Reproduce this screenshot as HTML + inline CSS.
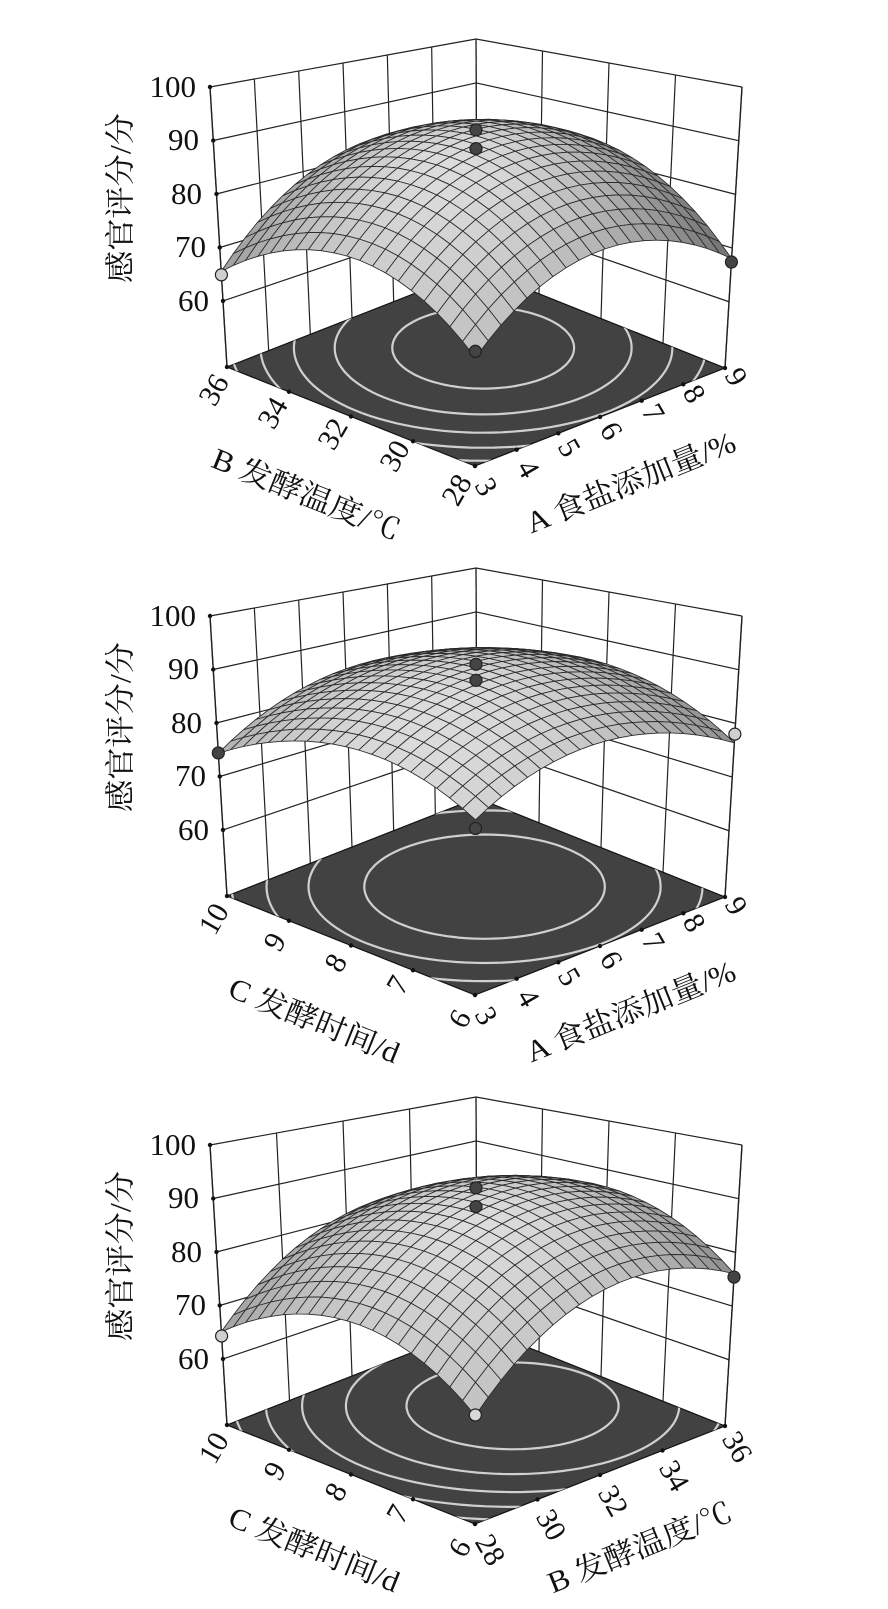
<!DOCTYPE html>
<html><head><meta charset="utf-8">
<style>
html,body{margin:0;padding:0;background:#fff;}
svg{display:block;}
text{font-family:"Liberation Serif","Noto Serif CJK SC",serif;fill:#111;}
</style></head>
<body>
<svg id="s" width="888" height="1609" viewBox="0 0 888 1609" xmlns="http://www.w3.org/2000/svg">
<defs></defs>
<g id="g0"></g><g id="g1"></g><g id="g2"></g>

<!-- Plot 1 -->
<g font-size="31" text-anchor="end">
<text x="196" y="97">100</text><text x="199" y="150">90</text><text x="202" y="204">80</text><text x="206" y="257">70</text><text x="209" y="311">60</text>
</g>
<text x="121" y="198" font-size="30" text-anchor="middle" dominant-baseline="central" transform="rotate(-90 121 198)" textLength="170" lengthAdjust="spacingAndGlyphs">感官评分/分</text>
<g font-size="30" text-anchor="middle" dominant-baseline="central">
<text x="457" y="490" transform="rotate(-60 457 490)">28</text>
<text x="395" y="456" transform="rotate(-60 395 456)">30</text>
<text x="333" y="434" transform="rotate(-60 333 434)">32</text>
<text x="273" y="413" transform="rotate(-60 273 413)">34</text>
<text x="214" y="390" transform="rotate(-60 214 390)">36</text>
<text x="486" y="487" transform="rotate(60 486 487)">3</text>
<text x="528" y="469" transform="rotate(60 528 469)">4</text>
<text x="569" y="448" transform="rotate(60 569 448)">5</text>
<text x="611" y="431" transform="rotate(60 611 431)">6</text>
<text x="653" y="413" transform="rotate(60 653 413)">7</text>
<text x="694" y="394" transform="rotate(60 694 394)">8</text>
<text x="736" y="377" transform="rotate(60 736 377)">9</text>
</g>
<text x="306" y="495" font-size="30" text-anchor="middle" dominant-baseline="central" transform="rotate(22 306 495)" textLength="200" lengthAdjust="spacingAndGlyphs">B 发酵温度/℃</text>
<text x="631" y="483" font-size="30" text-anchor="middle" dominant-baseline="central" transform="rotate(-22 631 483)" textLength="223" lengthAdjust="spacingAndGlyphs">A 食盐添加量/%</text>

<!-- Plot 2 -->
<g transform="translate(0,529)">
<g font-size="31" text-anchor="end">
<text x="196" y="97">100</text><text x="199" y="150">90</text><text x="202" y="204">80</text><text x="206" y="257">70</text><text x="209" y="311">60</text>
</g>
<text x="121" y="198" font-size="30" text-anchor="middle" dominant-baseline="central" transform="rotate(-90 121 198)" textLength="170" lengthAdjust="spacingAndGlyphs">感官评分/分</text>
<g font-size="30" text-anchor="middle" dominant-baseline="central">
<text x="460" y="490" transform="rotate(-60 460 490)">6</text>
<text x="398" y="456" transform="rotate(-60 398 456)">7</text>
<text x="336" y="434" transform="rotate(-60 336 434)">8</text>
<text x="275" y="413" transform="rotate(-60 275 413)">9</text>
<text x="214" y="390" transform="rotate(-60 214 390)">10</text>
<text x="486" y="487" transform="rotate(60 486 487)">3</text>
<text x="528" y="469" transform="rotate(60 528 469)">4</text>
<text x="569" y="448" transform="rotate(60 569 448)">5</text>
<text x="611" y="431" transform="rotate(60 611 431)">6</text>
<text x="653" y="413" transform="rotate(60 653 413)">7</text>
<text x="694" y="394" transform="rotate(60 694 394)">8</text>
<text x="736" y="377" transform="rotate(60 736 377)">9</text>
</g>
<text x="314" y="492" font-size="30" text-anchor="middle" dominant-baseline="central" transform="rotate(22 314 492)" textLength="181" lengthAdjust="spacingAndGlyphs">C 发酵时间/d</text>
<text x="631" y="483" font-size="30" text-anchor="middle" dominant-baseline="central" transform="rotate(-22 631 483)" textLength="223" lengthAdjust="spacingAndGlyphs">A 食盐添加量/%</text>
</g>

<!-- Plot 3 -->
<g transform="translate(0,1058)">
<g font-size="31" text-anchor="end">
<text x="196" y="97">100</text><text x="199" y="150">90</text><text x="202" y="204">80</text><text x="206" y="257">70</text><text x="209" y="311">60</text>
</g>
<text x="121" y="198" font-size="30" text-anchor="middle" dominant-baseline="central" transform="rotate(-90 121 198)" textLength="170" lengthAdjust="spacingAndGlyphs">感官评分/分</text>
<g font-size="30" text-anchor="middle" dominant-baseline="central">
<text x="460" y="490" transform="rotate(-60 460 490)">6</text>
<text x="398" y="456" transform="rotate(-60 398 456)">7</text>
<text x="336" y="434" transform="rotate(-60 336 434)">8</text>
<text x="275" y="413" transform="rotate(-60 275 413)">9</text>
<text x="214" y="390" transform="rotate(-60 214 390)">10</text>
<text x="490" y="492" transform="rotate(60 490 492)">28</text>
<text x="551" y="467" transform="rotate(60 551 467)">30</text>
<text x="613" y="443" transform="rotate(60 613 443)">32</text>
<text x="674" y="418" transform="rotate(60 674 418)">34</text>
<text x="737" y="389" transform="rotate(60 737 389)">36</text>
</g>
<text x="314" y="492" font-size="30" text-anchor="middle" dominant-baseline="central" transform="rotate(22 314 492)" textLength="181" lengthAdjust="spacingAndGlyphs">C 发酵时间/d</text>
<text x="640" y="490" font-size="30" text-anchor="middle" dominant-baseline="central" transform="rotate(-22 640 490)" textLength="196" lengthAdjust="spacingAndGlyphs">B 发酵温度/℃</text>
</g>
</svg>
<script>
(function(){
var NS="http://www.w3.org/2000/svg";
function mk(p,tag,a){var e=document.createElementNS(NS,tag);for(var k in a)e.setAttribute(k,a[k]);p.appendChild(e);return e;}
var defs=document.querySelector('defs');
function plot(idx,off,P,nu,nv,dots,levels){
  var g=document.getElementById('g'+idx);
  var F=[475,466+off],L=[227,367+off],R=[725,368+off];
  var tF=[476,135+off],tL=[210,87+off],tR=[742,87+off];
  var z0=47.66,zt=100;
  function pr(u,v,z){
    var bx=F[0]+u*(R[0]-F[0])+v*(L[0]-F[0]),by=F[1]+u*(R[1]-F[1])+v*(L[1]-F[1]);
    var tx=tF[0]+u*(tR[0]-tF[0])+v*(tL[0]-tF[0]),ty=tF[1]+u*(tR[1]-tF[1])+v*(tL[1]-tF[1]);
    var w=(z-z0)/(zt-z0);return [bx*(1-w)+tx*w,by*(1-w)+ty*w];}
  function pts(a){return a.map(function(p){return p[0].toFixed(1)+','+p[1].toFixed(1);}).join(' ');}
  function line(a,b,st){mk(g,'line',{x1:a[0],y1:a[1],x2:b[0],y2:b[1],stroke:'#222','stroke-width':st||1.2});}
  function zf(u,v){var p=(u+v)/2,q=(u-v)/2;return P.zm-P.a*(p-P.p0)*(p-P.p0)-P.b*(q-P.q0)*(q-P.q0);}
  mk(g,'polygon',{points:pts([pr(0,1,z0),pr(1,1,z0),pr(1,1,zt),pr(0,1,zt)]),fill:'#fff'});
  mk(g,'polygon',{points:pts([pr(1,0,z0),pr(1,1,z0),pr(1,1,zt),pr(1,0,zt)]),fill:'#fff'});
  for(var i=0;i<=nu;i++)line(pr(i/nu,1,z0),pr(i/nu,1,zt));
  for(var j=0;j<=nv;j++)line(pr(1,j/nv,z0),pr(1,j/nv,zt));
  for(var z=60;z<=100;z+=10){line(pr(0,1,z),pr(1,1,z));line(pr(1,0,z),pr(1,1,z));}
  line(pr(0,1,z0),pr(0,1,zt),1.4);line(pr(1,0,z0),pr(1,0,zt),1.4);
  for(var z=60;z<=100;z+=10){var t=pr(0,1,z);mk(g,'circle',{cx:t[0],cy:t[1],r:2.2,fill:'#111'});}
  var fl=[pr(0,0,z0),pr(1,0,z0),pr(1,1,z0),pr(0,1,z0)];
  var cp=mk(defs,'clipPath',{id:'cf'+idx});mk(cp,'polygon',{points:pts(fl)});
  mk(g,'polygon',{points:pts(fl),fill:'#424242',stroke:'#111','stroke-width':1.2});
  var cg=mk(g,'g',{'clip-path':'url(#cf'+idx+')'});
  levels.forEach(function(c){
    var D=P.zm-c;if(D<=0)return;var rp=Math.sqrt(D/P.a),rq=Math.sqrt(D/P.b),a=[];
    for(var k=0;k<=120;k++){var th=k/120*2*Math.PI;var p=P.p0+rp*Math.cos(th),q=P.q0+rq*Math.sin(th);a.push(pr(p+q,p-q,z0));}
    mk(cg,'polyline',{points:pts(a),fill:'none',stroke:'#d0d0d0','stroke-width':2.2});
  });
  for(var j=0;j<=nv;j++){var t=pr(0,j/nv,z0);mk(g,'circle',{cx:t[0],cy:t[1],r:2.2,fill:'#111'});}
  for(var i=0;i<=nu;i++){var t=pr(i/nu,0,z0);mk(g,'circle',{cx:t[0],cy:t[1],r:2.2,fill:'#111'});}
  var N=20,quads=[];
  var Lx=-0.35,Ly=-0.15,Lz=0.92,ln=Math.sqrt(Lx*Lx+Ly*Ly+Lz*Lz);Lx/=ln;Ly/=ln;Lz/=ln;
  for(var i=0;i<N;i++)for(var j=0;j<N;j++){
    var u0=i/N,u1=(i+1)/N,v0=j/N,v1=(j+1)/N;
    var z00=zf(u0,v0),z10=zf(u1,v0),z11=zf(u1,v1),z01=zf(u0,v1);
    var zu=((z10-z00)+(z11-z01))/2*N,zv=((z01-z00)+(z11-z10))/2*N;
    var k=0.02,nx=-zu*k,ny=-zv*k,nz=1,nl=Math.sqrt(nx*nx+ny*ny+1);
    var d=(nx*Lx+ny*Ly+nz*Lz)/nl;var gg=Math.round(Math.max(70,Math.min(220,5+215*d)));
    quads.push({d:(u0+v0),pts:[pr(u0,v0,z00),pr(u1,v0,z10),pr(u1,v1,z11),pr(u0,v1,z01)],c:gg});
  }
  quads.sort(function(a,b){return b.d-a.d;});
  quads.forEach(function(q){mk(g,'polygon',{points:pts(q.pts),fill:'rgb('+q.c+','+q.c+','+q.c+')',stroke:'#2a2a2a','stroke-width':0.85,'stroke-linejoin':'round'});});
  dots.forEach(function(d){var t=pr(d[0],d[1],d[2]);mk(g,'circle',{cx:t[0],cy:t[1],r:6,fill:d[3],stroke:'#222','stroke-width':1.2});});
}
plot(0,0,{zm:90,a:70,p0:0.6,b:90,q0:0.014},6,4,
  [[0,1,64.9,'#cfcfcf'],[1,0,67.4,'#444'],[0,0,65.8,'#444'],[0.5,0.5,92,'#444'],[0.5,0.5,88.5,'#444']],[87,82,77,72,67]);
plot(1,529,{zm:90.5,a:50,p0:0.55,b:60,q0:0.017},6,4,
  [[0,1,74.4,'#444'],[1,0,78,'#d0d0d0'],[0,0,74,'#444'],[0.5,0.5,91,'#444'],[0.5,0.5,88,'#444']],[87,83,79,75]);
plot(2,1058,{zm:90.4,a:70,p0:0.6,b:75,q0:0.073},4,4,
  [[0,1,64.3,'#cfcfcf'],[1,0,75.4,'#444'],[0,0,64.9,'#d8d8d8'],[0.5,0.5,92,'#444'],[0.5,0.5,88.5,'#444']],[87,82,77,72,67]);
})();
</script>
</body></html>
